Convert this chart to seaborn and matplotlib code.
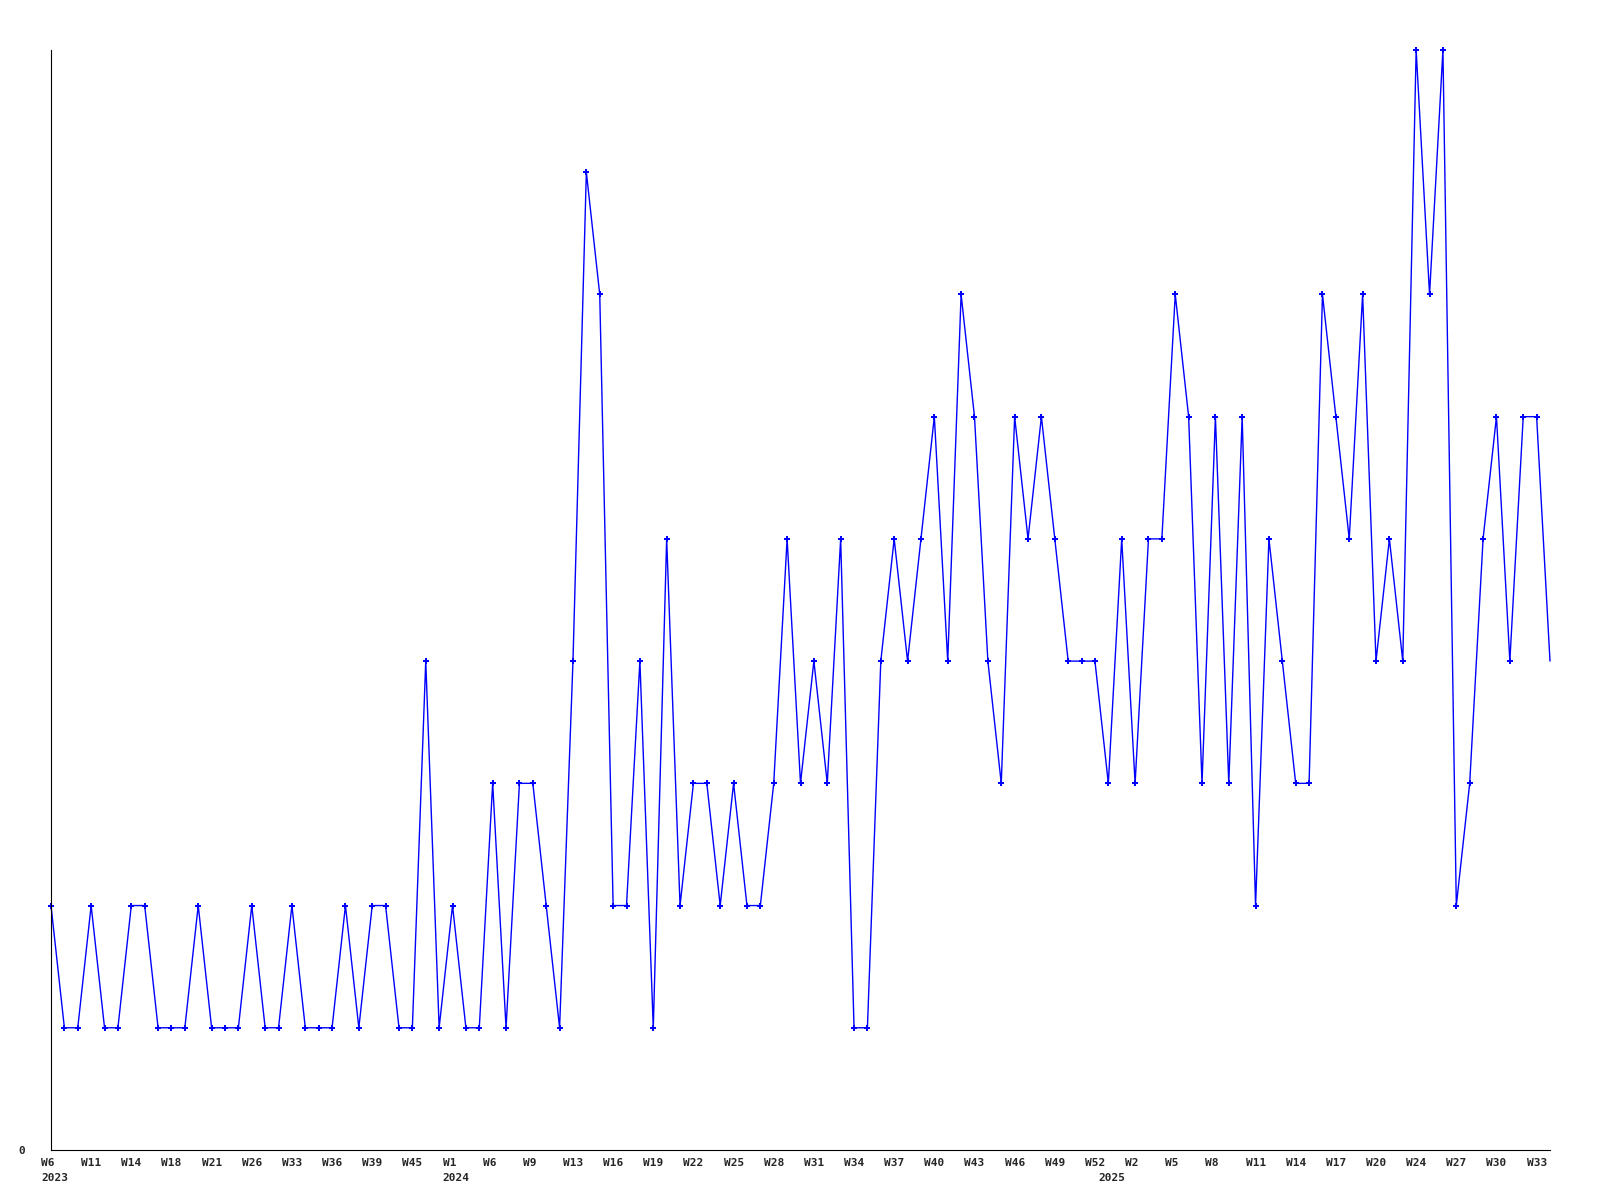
import numpy as np
import pandas as pd
import seaborn as sns
import matplotlib
matplotlib.use("Agg")
import matplotlib.pyplot as plt
from matplotlib.transforms import offset_copy

# weekly counts, one point per week that has data (missing weeks are skipped)
weeks_2023 = ["W6", "W8", "W9", "W11", "W12", "W13", "W14", "W15", "W17", "W18",
              "W19", "W20", "W21", "W23", "W25", "W26", "W28", "W30", "W33", "W34",
              "W35", "W36", "W37", "W38", "W39", "W41", "W43", "W45", "W48", "W51"]
weeks_2024 = ["W1", "W3", "W4", "W6", "W7", "W8", "W9", "W10", "W12"] + \
             ["W%d" % w for w in range(13, 53)]
weeks_2025 = ["W%d" % w for w in range(0, 23)] + ["W%d" % w for w in range(24, 35)]

counts = [2, 1, 1, 2, 1, 1, 2, 2, 1, 1,
          1, 2, 1, 1, 1, 2, 1, 1, 2, 1,
          1, 1, 2, 1, 2, 2, 1, 1, 4, 1,
          2, 1, 1, 3, 1, 3, 3, 2, 1, 4,
          8, 7, 2, 2, 4, 1, 5, 2, 3, 3,
          2, 3, 2, 2, 3, 5, 3, 4, 3, 5,
          1, 1, 4, 5, 4, 5, 6, 4, 7, 6,
          4, 3, 6, 5, 6, 5, 4, 4, 4, 3,
          5, 3, 5, 5, 7, 6, 3, 6, 3, 6,
          2, 5, 4, 3, 3, 7, 6, 5, 7, 4,
          5, 4, 9, 7, 9, 2, 3, 5, 6, 4,
          6, 6, 4]

weeks = weeks_2023 + weeks_2024 + weeks_2025
years = [2023] * len(weeks_2023) + [2024] * len(weeks_2024) + [2025] * len(weeks_2025)
df = pd.DataFrame({"pos": np.arange(len(weeks)), "week": weeks, "year": years, "count": counts})

sns.set_style("white")
plt.rcParams["font.family"] = ["DejaVu Sans Mono"]

fig = plt.figure(figsize=(16, 12), dpi=100)
fig.subplots_adjust(left=51/1600, right=1550/1600, top=1-50/1200, bottom=1-1150/1200)
ax = fig.add_subplot(1, 1, 1)

sns.lineplot(data=df, x="pos", y="count", color="#0000ff", linewidth=1,
             marker="P", markersize=5, markeredgewidth=0, clip_on=False,
             markevery=list(range(len(df) - 1)), ax=ax)

ax.set_xlim(0, len(df) - 1)
ax.set_ylim(0, 9)
ax.set_xlabel("")
ax.set_ylabel("")
sns.despine(ax=ax)
for s in ["left", "bottom"]:
    ax.spines[s].set_color("black")
    ax.spines[s].set_linewidth(0.8)

ax.set_xticks([])
ax.set_yticks([0])
ax.set_yticklabels(["0"], fontsize=8, fontweight="bold")
ax.tick_params(axis="y", length=0, pad=18.5)

# week labels every third point, year under the first point of each year
week_tr = offset_copy(ax.get_xaxis_transform(), fig=fig, x=-10, y=-8, units="dots")
year_tr = offset_copy(ax.get_xaxis_transform(), fig=fig, x=-10, y=-23, units="dots")
for i in range(0, len(df), 3):
    ax.text(df["pos"][i], 0, df["week"][i], transform=week_tr, ha="left", va="top",
            fontsize=8, fontweight="bold")
first = df.groupby("year")["pos"].min()
for yr, p in first.items():
    ax.text(p, 0, str(yr), transform=year_tr, ha="left", va="top",
            fontsize=8, fontweight="bold")

fig.savefig("out.png", dpi=100)
